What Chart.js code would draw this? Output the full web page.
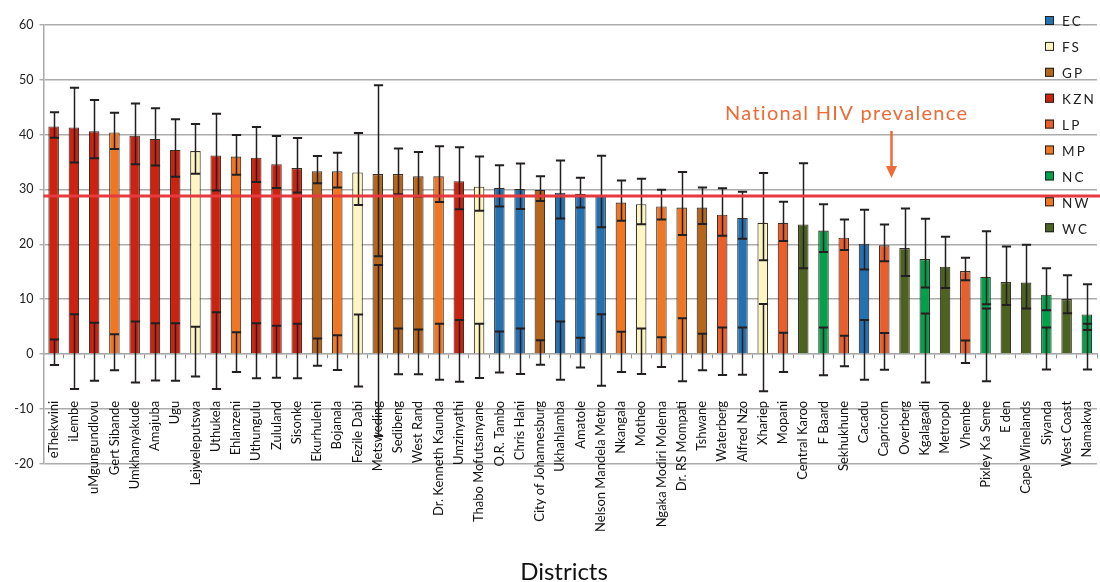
<!DOCTYPE html>
<html>
<head>
<meta charset="utf-8">
<script src="https://cdn.jsdelivr.net/npm/chart.js@4.4.1/dist/chart.umd.min.js"></script>
<style>
  html, body { margin: 0; padding: 0; background: #ffffff; }
  #wrap { width: 1100px; height: 582px; position: relative; }
</style>
</head>
<body>
<div id="wrap"><canvas id="chart" width="1100" height="582"></canvas></div>
<script>
// District HIV prevalence (%) with 95% confidence limits, grouped by province
const districts = [
  'eThekwini', 'iLembe', 'uMgungundlovu', 'Gert Sibande', 'Umkhanyakude', 'Amajuba', 'Ugu',
  'Lejweleputswa', 'Uthukela', 'Ehlanzeni', 'Uthungulu', 'Zululand', 'Sisonke', 'Ekurhuleni',
  'Bojanala', 'Fezile Dabi', 'Metsweding', 'Sedibeng', 'West Rand', 'Dr. Kenneth Kaunda',
  'Umzinyathi', 'Thabo Mofutsanyane', 'O.R. Tambo', 'Chris Hani', 'City of Johannesburg',
  'Ukhahlamba', 'Amatole', 'Nelson Mandela Metro', 'Nkangala', 'Motheo', 'Ngaka Modiri Molema',
  'Dr. RS Mompati', 'Tshwane', 'Waterberg', 'Alfred Nzo', 'Xhariep', 'Mopani', 'Central Karoo',
  'F Baard', 'Sekhukhune', 'Cacadu', 'Capricorn', 'Overberg', 'Kgalagadi', 'Metropol', 'Vhembe',
  'Pixley Ka Seme', 'E den', 'Cape Winelands', 'Siyanda', 'West Coast', 'Namakwa'
];

const districtProvince = [
  'KZN', 'KZN', 'KZN', 'MP', 'KZN', 'KZN', 'KZN',
  'FS', 'KZN', 'MP', 'KZN', 'KZN', 'KZN', 'GP',
  'NW', 'FS', 'GP', 'GP', 'GP', 'NW',
  'KZN', 'FS', 'EC', 'EC', 'GP',
  'EC', 'EC', 'EC', 'MP', 'FS', 'NW',
  'NW', 'GP', 'LP', 'EC', 'FS', 'LP', 'WC',
  'NC', 'LP', 'EC', 'LP', 'WC', 'NC', 'WC', 'LP',
  'NC', 'WC', 'WC', 'NC', 'WC', 'NC'
];

const prevalence = [
  41.5, 41.3, 40.6, 40.4, 39.8, 39.2, 37.2,
  37.0, 36.2, 36.0, 35.8, 34.6, 33.9, 33.3,
  33.3, 33.1, 32.8, 32.8, 32.4, 32.4,
  31.5, 30.5, 30.3, 30.1, 29.9,
  29.4, 29.2, 28.9, 27.6, 27.3, 26.9,
  26.7, 26.7, 25.4, 24.8, 23.9, 23.9, 23.6,
  22.5, 21.2, 20.1, 19.8, 19.3, 17.3, 15.9, 15.1,
  14.05, 13.1, 13.0, 10.8, 10.0, 7.2
];

const ciLow = [
  39.45, 34.9, 35.7, 37.4, 34.6, 34.35, 32.3,
  32.85, 29.8, 32.7, 31.35, 30.25, 29.45, 31.15,
  30.35, 27.15, 17.8, 29.1, 28.7, 27.7,
  26.4, 26.1, 26.9, 26.45, 27.9,
  24.7, 26.7, 23.1, 24.3, 23.65, 24.5,
  21.7, 23.7, 21.55, 21.0, 17.1, 20.6, 15.6,
  18.6, 18.95, 15.4, 16.9, 14.2, 12.1, 12.0, 13.45,
  9.05, 8.9, 8.3, 7.95, 7.4, 4.35
];

const ciHigh = [
  44.1, 48.55, 46.3, 44.0, 45.7, 44.8, 42.8,
  41.95, 43.8, 39.95, 41.4, 39.75, 39.4, 36.1,
  36.7, 40.3, 49.0, 37.45, 36.85, 37.9,
  37.7, 36.0, 34.4, 34.75, 32.4,
  35.3, 32.15, 36.15, 31.65, 31.95, 29.95,
  33.2, 30.35, 30.2, 29.6, 33.0, 27.75, 34.8,
  27.3, 24.5, 26.3, 23.6, 26.5, 24.65, 21.35, 17.55,
  22.35, 19.6, 19.9, 15.6, 14.35, 12.7
];

const provinces = ['EC', 'FS', 'GP', 'KZN', 'LP', 'MP', 'NC', 'NW', 'WC'];
const nationalPrevalence = 28.8;
const nationalLabel = 'National HIV prevalence';
const axisTitle = 'Districts';

const provinceFill = {
  EC: '#2471b1', FS: '#fdf6c3', GP: '#b5661c', KZN: '#cb2310', LP: '#e95f2b',
  MP: '#ef7723', NC: '#03a04b', NW: '#ef7723', WC: '#4b6221'
};

const FONT = 'Lato, "Open Sans", "DejaVu Sans", sans-serif';

const datasets = provinces.map(p => ({
  label: p,
  data: prevalence.map((v, i) => (districtProvince[i] === p ? v : null)),
  backgroundColor: provinceFill[p],
  borderColor: 'rgba(35,25,15,0.9)',
  borderWidth: 1.1,
  // the Western Cape series carries no whisker around the zero line
  baselineWhisker: p !== 'WC'
}));

// Confidence whiskers: one around each bar top, a copy around the zero line
const errorBars = {
  id: 'errorBars',
  afterDatasetsDraw(chart) {
    const { ctx, scales: { y } } = chart;
    const half = 4.6;
    const whisker = (px, v1, v2) => {
      const a = y.getPixelForValue(v1), b = y.getPixelForValue(v2);
      ctx.lineWidth = 1.5;
      ctx.beginPath();
      ctx.moveTo(px, a); ctx.lineTo(px, b);
      ctx.stroke();
      ctx.lineWidth = 2;
      ctx.beginPath();
      ctx.moveTo(px - half, a); ctx.lineTo(px + half, a);
      ctx.moveTo(px - half, b); ctx.lineTo(px + half, b);
      ctx.stroke();
    };
    ctx.save();
    ctx.strokeStyle = '#231f20';
    chart.data.datasets.forEach((ds, di) => {
      const meta = chart.getDatasetMeta(di);
      ds.data.forEach((v, i) => {
        if (v == null) return;
        const px = Math.round(meta.data[i].x) + 0.5;
        whisker(px, ciLow[i], ciHigh[i]);
        if (ds.baselineWhisker) {
          whisker(px, -(v - ciLow[i]), ciHigh[i] - v);
        }
      });
    });
    ctx.restore();
  }
};

// National reference line with its label and arrow, plus legend and axis title
const annotations = {
  id: 'annotations',
  afterDatasetsDraw(chart) {
    const { ctx, chartArea, scales: { y } } = chart;
    const ly = y.getPixelForValue(nationalPrevalence);
    ctx.save();
    ctx.strokeStyle = '#e63a3e';
    ctx.lineWidth = 3;
    ctx.beginPath();
    ctx.moveTo(chartArea.left, ly);
    ctx.lineTo(chart.width, ly);
    ctx.stroke();

    const orange = '#ef6a34';
    ctx.fillStyle = orange;
    ctx.font = '20px ' + FONT;
    ctx.letterSpacing = '1.3px';
    ctx.textAlign = 'left';
    ctx.textBaseline = 'alphabetic';
    ctx.fillText(nationalLabel, 725, ly - 76);
    ctx.letterSpacing = '0px';

    const ax = 891.5;
    ctx.strokeStyle = orange;
    ctx.lineWidth = 2.5;
    ctx.beginPath();
    ctx.moveTo(ax, ly - 65);
    ctx.lineTo(ax, ly - 28);
    ctx.stroke();
    ctx.beginPath();
    ctx.moveTo(ax - 5.5, ly - 30);
    ctx.lineTo(ax + 5.5, ly - 30);
    ctx.lineTo(ax, ly - 18);
    ctx.closePath();
    ctx.fill();
    ctx.restore();
  },
  afterDraw(chart) {
    const { ctx } = chart;
    ctx.save();
    // legend
    ctx.font = '13.5px ' + FONT;
    ctx.letterSpacing = '2.2px';
    ctx.textAlign = 'left';
    ctx.textBaseline = 'middle';
    provinces.forEach((p, k) => {
      const cy = 20.5 + k * 25.9;
      ctx.fillStyle = provinceFill[p];
      ctx.fillRect(1045, cy - 4.5, 9, 9);
      ctx.strokeStyle = '#222';
      ctx.lineWidth = 1;
      ctx.strokeRect(1045.5, cy - 4, 8, 8);
      ctx.fillStyle = '#222';
      ctx.fillText(p, 1062, cy + 1.5);
    });
    ctx.letterSpacing = '0px';
    // axis title
    ctx.fillStyle = '#111';
    ctx.font = '24px ' + FONT;
    ctx.textAlign = 'center';
    ctx.textBaseline = 'alphabetic';
    ctx.fillText(axisTitle, 564, 580);
    ctx.restore();
  }
};

new Chart(document.getElementById('chart'), {
  type: 'bar',
  data: { labels: districts, datasets },
  plugins: [errorBars, annotations],
  options: {
    responsive: false,
    animation: false,
    devicePixelRatio: 1,
    layout: { padding: { top: 25, bottom: 118.5, left: 12.5, right: 3 } },
    datasets: { bar: { grouped: false, barPercentage: 0.52, categoryPercentage: 1 } },
    plugins: { legend: { display: false }, tooltip: { enabled: false }, title: { display: false } },
    scales: {
      x: {
        type: 'category',
        position: { y: 0 },
        afterFit(scale) { scale.paddingLeft = 0; scale.paddingRight = 0; },
        border: { display: true, color: '#a9a9a9', width: 1.3 },
        grid: {
          drawOnChartArea: false, drawTicks: true, tickLength: 47,
          tickColor: '#8c8c8c', tickWidth: 1, tickBorderDash: [4, 200]
        },
        ticks: {
          autoSkip: false, minRotation: 90, maxRotation: 90, padding: 0,
          color: '#111', font: { family: FONT, size: 13 }
        }
      },
      y: {
        min: -20, max: 60,
        afterFit(scale) { scale.width = 31; },
        border: { display: true, color: '#a9a9a9', width: 1.5 },
        grid: { color: '#acacac', lineWidth: 1.4, tickLength: 4, tickColor: '#acacac' },
        ticks: { stepSize: 10, padding: 6, color: '#222', font: { family: FONT, size: 12.5 } }
      }
    }
  }
});
</script>
</body>
</html>
